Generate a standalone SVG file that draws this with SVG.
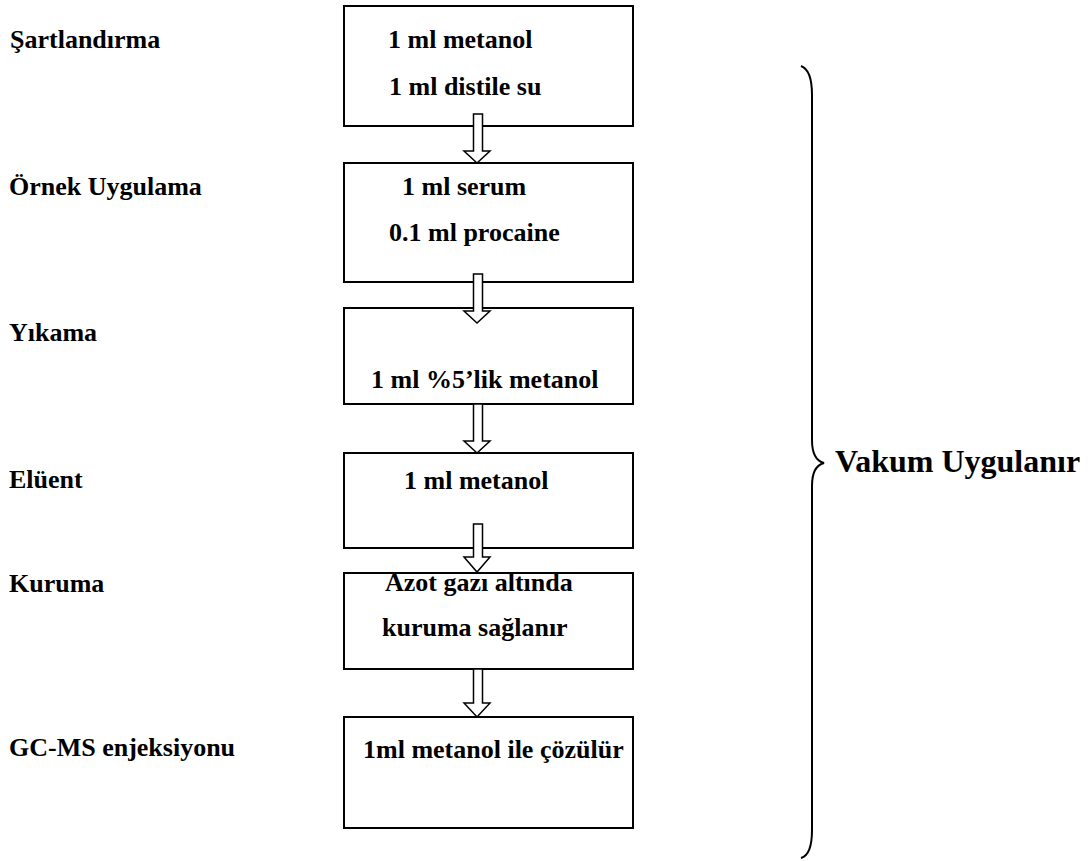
<svg xmlns="http://www.w3.org/2000/svg" width="1088" height="861" viewBox="0 0 1088 861">
<style>
text{font-family:"Liberation Serif","Times New Roman",serif;font-weight:bold;font-size:26px;fill:#000}
.box{fill:#fff;stroke:#000;stroke-width:2}
.arr{fill:#fff;stroke:#000;stroke-width:1.5;stroke-linejoin:miter}
.brace{fill:none;stroke:#000;stroke-width:2}
.big{font-size:32px}
</style>
<rect width="1088" height="861" fill="#fff"/>
<g id="labels">
<text x="10" y="48">Şartlandırma</text>
<text x="9" y="195">Örnek Uygulama</text>
<text x="9" y="341">Yıkama</text>
<text x="9" y="488">Elüent</text>
<text x="9" y="592">Kuruma</text>
<text x="9" y="756">GC-MS enjeksiyonu</text>
</g>
<g id="node1"><rect class="box" x="344" y="6" width="289" height="120"/>
<text x="388" y="48">1 ml metanol</text><text x="389" y="95">1 ml distile su</text></g>
<g id="node2"><rect class="box" x="344" y="163" width="289" height="119"/>
<text x="402" y="195">1 ml serum</text><text x="389" y="241">0.1 ml procaine</text></g>
<g id="node3"><rect class="box" x="344" y="308" width="289" height="96"/>
<text x="371" y="388">1 ml %5’lik metanol</text></g>
<g id="node4"><rect class="box" x="344" y="453" width="289" height="95"/>
<text x="404" y="489">1 ml metanol</text></g>
<g id="node5"><rect class="box" x="344" y="573" width="289" height="96"/>
<text x="385" y="591">Azot gazı altında</text><text x="382" y="636">kuruma sağlanır</text></g>
<g id="node6"><rect class="box" x="344" y="717" width="289" height="111"/>
<text x="363" y="758">1ml metanol ile çözülür</text></g>
<g id="connectors">
<path class="arr" d="M473.5,114 H482.5 V151 H490 L477,163 L464,151 H473.5 Z"/>
<path class="arr" d="M473.5,274 H482.5 V311 H490 L477,323 L464,311 H473.5 Z"/>
<path class="arr" d="M473.5,404 H482.5 V441 H490 L477,453 L464,441 H473.5 Z"/>
<path class="arr" d="M473.5,524 H482.5 V557 H490 L477,572 L464,557 H473.5 Z"/>
<path class="arr" d="M473.5,669 H482.5 V703 H490 L477,717 L464,703 H473.5 Z"/>
</g>
<g id="brace">
<path class="brace" d="M801,66 Q812,70 812,95 L812,440 Q812,460 824,463 Q812,466 812,486 L812,830 Q812,855 801,858"/>
<text class="big" x="835" y="472">Vakum Uygulanır</text>
</g>
</svg>
